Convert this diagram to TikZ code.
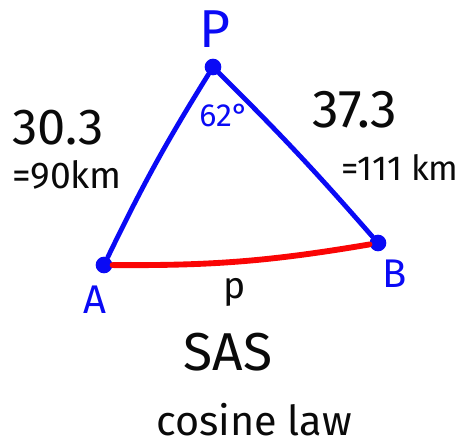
\documentclass[tikz,border=0pt]{standalone}
\usepackage{fontspec}
\setmainfont{Fira Sans}
\usepackage{tikz}
\usepackage{xcolor}
\usetikzlibrary{positioning}
\definecolor{penblue}{HTML}{0A0AF5}
\definecolor{penred}{HTML}{FA0505}
\definecolor{penink}{HTML}{0A0A0A}
\tikzset{
  vertexdot/.style={
    circle, fill=penblue, inner sep=0pt, minimum size=12.5pt
  },
  sidestroke/.style={draw=penblue, line width=3.6pt, line cap=round},
  basestroke/.style={draw=penred, line width=4.4pt, line cap=round},
  bluetag/.style={
    text=penblue, inner sep=0pt,
    font=\fontsize{30}{30}\selectfont
  },
  inknote/.style={
    text=penink, inner sep=0pt, align=center,
    font=\fontsize{28}{28}\selectfont
  }
}

\begin{document}
\begin{tikzpicture}[x=0.75pt,y=-0.75pt]
  \useasboundingbox (0,0) rectangle (467,448);
  % vertices of the triangle
  \node[vertexdot] (vP) at (213,67) {};
  \node[vertexdot] (vA) at (104,265) {};
  \node[vertexdot] (vB) at (378,243) {};
  \draw[sidestroke] (vP) to[bend right=3] (vA);
  \draw[sidestroke] (vP) to[bend left=2] (vB);
  \draw[basestroke] (vA) to[bend right=5] (vB);
  % vertex names
  \node[bluetag,font=\fontsize{40}{40}\selectfont] (tP) at (215,29) {P};
  \node[bluetag] (tA) at (95,300) {A};
  \node[bluetag] (tB) at (395,274) {B};
  \node[bluetag,font=\fontsize{24}{24}\selectfont] (tAngle) at (224,115) {62\textdegree};
  % side lengths
  \node[inknote,font=\fontsize{38}{38}\selectfont] (lenPA) at (58,128) {30.3};
  \node[inknote] (kmPA) at (67,175) {=90km};
  \node[inknote,font=\fontsize{40}{40}\selectfont] (lenPB) at (355,110) {37.3};
  \node[inknote,font=\fontsize{26}{26}\selectfont] (kmPB) at (400,168) {=111 km};
  \node[inknote] (tSide) at (235,292) {p};
  % notes below
  \node[inknote,font=\fontsize{40}{40}\selectfont] (tSAS) at (228,352) {SAS};
  \node[inknote,font=\fontsize{31}{31}\selectfont] (tLaw) at (254,420) {cosine law};
\end{tikzpicture}
\end{document}
